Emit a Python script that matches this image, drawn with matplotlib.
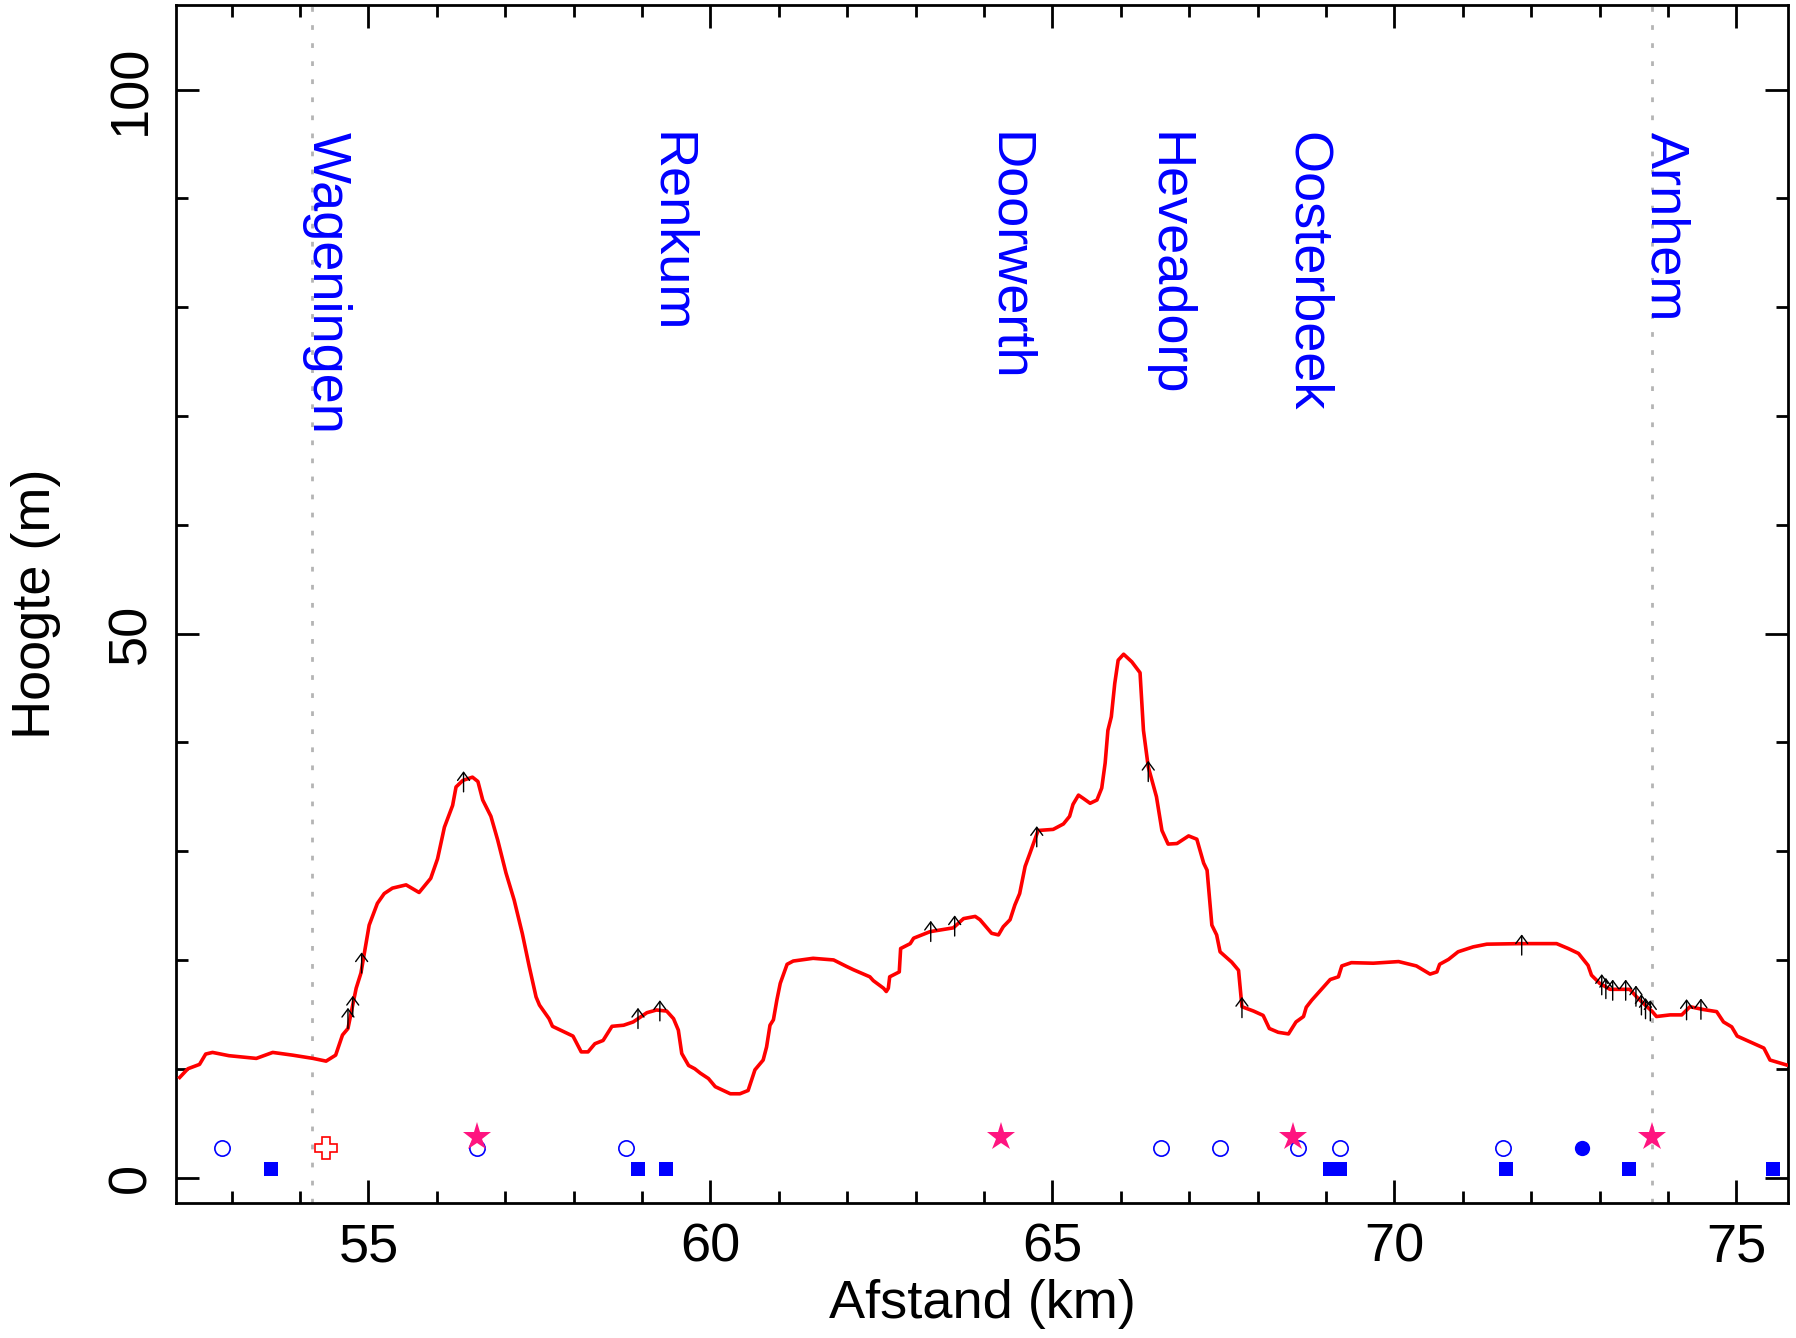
import matplotlib
matplotlib.use('Agg')
import matplotlib.pyplot as plt
from matplotlib.ticker import MultipleLocator

plt.rcParams['font.family'] = ['Liberation Sans', 'DejaVu Sans']

# elevation profile
dist_km = [52.24, 52.36, 52.53, 52.62, 52.72, 52.96, 53.36, 53.60, 53.89, 54.19,
           54.38, 54.52, 54.62, 54.70, 54.82, 54.89, 55.01, 55.13, 55.23, 55.35,
           55.55, 55.74, 55.91, 56.01, 56.11, 56.23, 56.28, 56.38, 56.52, 56.60,
           56.67, 56.79, 56.89, 57.01, 57.13, 57.25, 57.35, 57.45, 57.50, 57.64,
           57.69, 57.99, 58.11, 58.21, 58.31, 58.43, 58.56, 58.73, 58.87, 59.07,
           59.21, 59.36, 59.46, 59.53, 59.58, 59.68, 59.77, 59.85, 59.97, 60.07,
           60.29, 60.43, 60.55, 60.65, 60.77, 60.82, 60.87, 60.92, 60.97, 61.02,
           61.12, 61.21, 61.50, 61.80, 61.99, 62.09, 62.33, 62.38, 62.53, 62.57,
           62.60, 62.62, 62.76, 62.78, 62.92, 62.97, 63.21, 63.55, 63.70, 63.87,
           63.94, 64.11, 64.21, 64.28, 64.38, 64.45, 64.52, 64.60, 64.67, 64.79,
           65.01, 65.16, 65.25, 65.30, 65.38, 65.45, 65.55, 65.65, 65.72, 65.77,
           65.81, 65.86, 65.91, 65.96, 66.04, 66.16, 66.28, 66.33, 66.40, 66.52,
           66.60, 66.69, 66.82, 66.99, 67.11, 67.21, 67.26, 67.33, 67.40, 67.45,
           67.62, 67.72, 67.77, 67.94, 68.08, 68.17, 68.30, 68.45, 68.56, 68.67,
           68.71, 68.79, 68.96, 69.06, 69.18, 69.23, 69.37, 69.69, 70.06, 70.32,
           70.52, 70.62, 70.66, 70.79, 70.93, 71.15, 71.35, 71.84, 72.37, 72.54,
           72.69, 72.83, 72.88, 73.00, 73.15, 73.44, 73.54, 73.64, 73.77, 73.83,
           74.03, 74.20, 74.32, 74.51, 74.71, 74.81, 74.93, 75.01, 75.40, 75.49,
           75.73]
elev_m = [9.2, 10.0, 10.4, 11.35, 11.5, 11.2, 10.95, 11.5, 11.25, 10.95,
          10.7, 11.25, 13.1, 13.7, 17.4, 18.8, 23.2, 25.2, 26.1, 26.6,
          26.9, 26.2, 27.5, 29.3, 32.2, 34.2, 35.9, 36.5, 36.8, 36.4,
          34.7, 33.2, 31.0, 28.0, 25.5, 22.4, 19.4, 16.6, 15.85, 14.6,
          13.9, 13.0, 11.55, 11.55, 12.3, 12.6, 13.9, 14.0, 14.3, 15.15,
          15.4, 15.3, 14.6, 13.55, 11.4, 10.3, 10.0, 9.6, 9.1, 8.35,
          7.7, 7.7, 8.0, 9.9, 10.8, 12.0, 14.0, 14.5, 16.3, 17.85,
          19.6, 19.9, 20.15, 20.0, 19.4, 19.1, 18.45, 18.1, 17.4, 17.1,
          17.4, 18.45, 18.9, 21.05, 21.5, 22.0, 22.6, 22.95, 23.8, 24.0,
          23.7, 22.45, 22.3, 23.05, 23.7, 25.05, 26.1, 28.6, 29.8, 31.9,
          32.0, 32.5, 33.2, 34.3, 35.15, 34.85, 34.4, 34.7, 35.8, 38.1,
          41.1, 42.35, 45.4, 47.55, 48.1, 47.4, 46.4, 41.1, 37.75, 35.0,
          31.9, 30.65, 30.7, 31.4, 31.1, 28.9, 28.25, 23.2, 22.3, 20.75,
          19.8, 19.05, 15.7, 15.3, 14.9, 13.7, 13.35, 13.2, 14.3, 14.8,
          15.65, 16.3, 17.5, 18.2, 18.45, 19.45, 19.75, 19.7, 19.85, 19.45,
          18.7, 18.9, 19.6, 20.05, 20.75, 21.2, 21.45, 21.5, 21.5, 21.05,
          20.6, 19.5, 18.6, 17.85, 17.3, 17.3, 16.6, 16.0, 15.25, 14.8,
          14.95, 14.95, 15.7, 15.45, 15.25, 14.3, 13.85, 13.0, 11.9, 10.8,
          10.35]

# small up arrows along the route
arrow_km = [54.70, 54.77, 54.90, 56.39, 58.94, 59.26, 63.22, 63.57, 64.77, 66.40,
            67.77, 71.86, 73.03, 73.09, 73.19, 73.38, 73.53, 73.61, 73.67, 73.74,
            74.27, 74.48]
arrow_base = [13.7, 14.8, 18.8, 35.45, 13.7, 14.4, 21.7, 22.2, 30.4, 36.4,
              14.7, 20.45, 16.8, 16.45, 16.3, 16.3, 15.75, 14.95, 14.6, 14.4,
              14.5, 14.55]

towns = ['Wageningen', 'Renkum', 'Doorwerth', 'Heveadorp', 'Oosterbeek', 'Arnhem']
town_km = [54.18, 59.21, 64.14, 66.48, 68.52, 73.76]
town_lines_km = [54.18, 73.77]

# symbol rows at the bottom
open_circle_km = [52.86, 56.58, 58.76, 66.58, 67.45, 68.59, 69.20, 71.58]
square_km = [53.57, 58.94, 59.35, 69.06, 69.20, 71.63, 73.43, 75.53]
star_km = [56.58, 64.24, 68.51, 73.77]
cross_km = [54.38]
dot_km = [72.74]

ROW_CIRCLE = 2.7
ROW_SQUARE = 0.75
ROW_STAR = 3.75
ARROW_LEN = 1.9
FS = 39

W, H = 1796, 1338
fig = plt.figure(figsize=(W / 100, H / 100), dpi=100)
ax = fig.add_axes([176 / W, 1 - 1203 / H, (1788 - 176) / W, (1203 - 4.7) / H])

for x in town_lines_km:
    ax.axvline(x, color='#b4b4b4', lw=2.0, ls=(0, (1.7, 4.8)), dash_capstyle='butt', zorder=1)

ax.plot(dist_km, elev_m, color='red', lw=2.6, zorder=3)

for x, y in zip(arrow_km, arrow_base):
    ax.annotate('', xy=(x, y + ARROW_LEN), xytext=(x, y),
                arrowprops=dict(arrowstyle='->,head_length=0.58,head_width=0.43',
                                mutation_scale=10, color='black', lw=1.0,
                                shrinkA=0, shrinkB=0), zorder=4)

for name, x in zip(towns, town_km):
    ax.text(x, 96.1, name, rotation=-90, rotation_mode='anchor', ha='left',
            va='baseline', color='blue', fontsize=FS)

ax.plot(open_circle_km, [ROW_CIRCLE] * len(open_circle_km), 'o', ms=11,
        mfc='none', mec='blue', mew=1.2, zorder=5)
ax.plot(square_km, [ROW_SQUARE] * len(square_km), 's', ms=10, color='blue',
        mew=0, zorder=5)
ax.plot(dot_km, [ROW_CIRCLE] * len(dot_km), 'o', ms=11, color='blue', mew=0, zorder=5)
ax.plot(cross_km, [ROW_CIRCLE] * len(cross_km), 'P', ms=16, mfc='white',
        mec='red', mew=1.2, zorder=5)
ax.plot(star_km, [ROW_STAR] * len(star_km), '*', ms=21, color='#ff1480',
        mew=0, zorder=6)

ax.set_xlim(52.186, 75.753)
ax.set_ylim(-2.34, 107.8)
ax.xaxis.set_major_locator(MultipleLocator(5))
ax.xaxis.set_minor_locator(MultipleLocator(1))
ax.yaxis.set_major_locator(MultipleLocator(50))
ax.yaxis.set_minor_locator(MultipleLocator(10))
ax.tick_params(which='both', direction='in', top=True, right=True, width=2,
               labelsize=FS, pad=14)
ax.tick_params(which='major', length=16.5)
ax.tick_params(which='minor', length=8.6)
plt.setp(ax.get_yticklabels(), rotation=90, va='center')
for s in ax.spines.values():
    s.set_linewidth(2)

ax.set_xlabel('Afstand (km)', fontsize=FS, labelpad=5)
ax.set_ylabel('Hoogte (m)', fontsize=FS, labelpad=33)

fig.savefig('out.png', dpi=100)
